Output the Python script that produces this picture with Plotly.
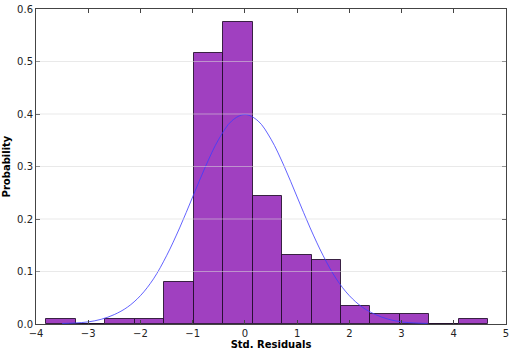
import plotly.graph_objects as go

# Histogram bins (left edges, width) and density heights
bin_left = [-3.80, -3.236, -2.672, -2.108, -1.544, -0.980, -0.416, 0.148,
            0.712, 1.276, 1.840, 2.404, 2.968, 3.532, 4.096]
bin_width = 0.564
density = [0.009, 0.0, 0.009, 0.009, 0.080, 0.516, 0.576, 0.244,
           0.132, 0.122, 0.035, 0.0185, 0.0185, 0.0, 0.009]

# Normal curve points
curve_x = [-3.5, -3.25, -3.0, -2.75, -2.5, -2.25, -2.0, -1.75, -1.5, -1.25, -1.0,
           -0.75, -0.5, -0.25, 0.0, 0.25, 0.5, 0.75, 1.0, 1.25, 1.5, 1.75, 2.0,
           2.25, 2.5, 2.75, 3.0, 3.25, 3.5]
curve_y = [0.001, 0.002, 0.004, 0.009, 0.018, 0.032, 0.054, 0.086, 0.130, 0.183,
           0.242, 0.301, 0.352, 0.387, 0.399, 0.387, 0.352, 0.301, 0.242, 0.183,
           0.130, 0.086, 0.054, 0.032, 0.018, 0.009, 0.004, 0.002, 0.001]

x_ticks = [-4, -3, -2, -1, 0, 1, 2, 3, 4, 5]
x_ticktext = ["\u22124", "\u22123", "\u22122", "\u22121", "0", "1", "2", "3", "4", "5"]
y_ticks = [0.0, 0.1, 0.2, 0.3, 0.4, 0.5, 0.6]
y_ticktext = ["0.0", "0.1", "0.2", "0.3", "0.4", "0.5", "0.6"]

fig = go.Figure()
fig.add_trace(go.Bar(
    x=[b + bin_width / 2 for b in bin_left], y=density, width=bin_width,
    marker=dict(color="rgb(160,64,192)", line=dict(color="rgba(30,10,40,0.85)", width=1)),
    showlegend=False, hoverinfo="skip"))
fig.add_trace(go.Scatter(
    x=curve_x, y=curve_y, mode="lines", line=dict(color="rgba(60,60,255,0.8)", width=1, shape="spline"),
    showlegend=False, hoverinfo="skip"))

# Grid lines drawn above the bars (as in the reference)
for yv in y_ticks[1:-1]:
    fig.add_shape(type="line", xref="paper", x0=0, x1=1, yref="y", y0=yv, y1=yv,
                  line=dict(color="rgba(215,215,215,0.55)", width=1), layer="above")

axis_common = dict(showline=True, linecolor="#444", linewidth=1, mirror="ticks",
                   ticks="inside", ticklen=4, tickcolor="#444", showgrid=False, zeroline=False,
                   ticklabeloverflow="allow", automargin=False,
                   tickfont=dict(family="DejaVu Sans", size=10, color="#222"))

fig.update_layout(
    width=509, height=350,
    margin=dict(l=36, r=3, t=9, b=26),
    paper_bgcolor="white", plot_bgcolor="white",
    bargap=0,
    xaxis=dict(range=[-4, 5], tickvals=x_ticks, ticktext=x_ticktext,
               title=dict(text="<b>Std. Residuals</b>", standoff=2,
                          font=dict(family="DejaVu Sans", size=10, color="black")),
               **axis_common),
    yaxis=dict(range=[0, 0.6], tickvals=y_ticks, ticktext=y_ticktext,
               title=dict(text="<b>Probability</b>", standoff=4,
                          font=dict(family="DejaVu Sans", size=10, color="black")),
               **axis_common),
)

fig.write_html("out.html")
